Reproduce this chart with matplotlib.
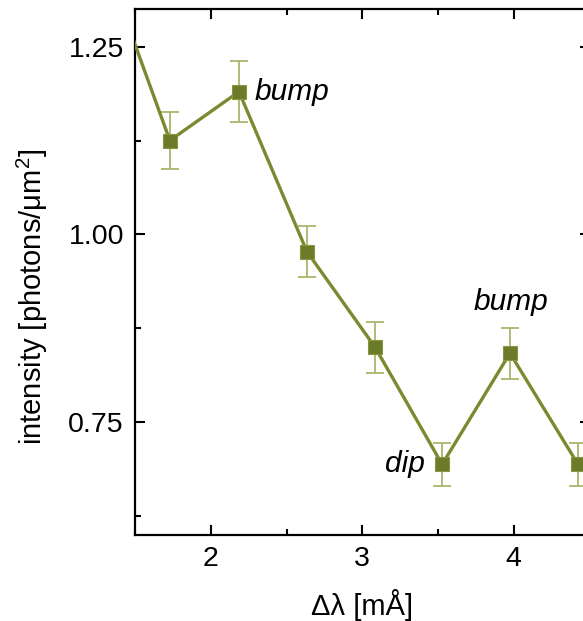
import numpy as np
import matplotlib
matplotlib.use("Agg")
import matplotlib.pyplot as plt
from matplotlib.ticker import MultipleLocator

plt.rcParams['font.family'] = ['Liberation Sans', 'DejaVu Sans']
plt.rcParams['mathtext.fontset'] = 'custom'
plt.rcParams['mathtext.rm'] = 'Liberation Sans'

# data (first point sits left of the visible window)
delta_lambda = [1.28, 1.73, 2.186, 2.635, 3.084, 3.527, 3.975, 4.424]
intensity = [1.375, 1.125, 1.190, 0.977, 0.850, 0.694, 0.842, 0.694]
err = [0.04, 0.038, 0.041, 0.034, 0.034, 0.029, 0.034, 0.029]

line_col = '#7b8a30'
marker_col = '#6c7b29'
err_col = '#aab56c'

fig = plt.figure(figsize=(5.83, 6.21), dpi=100)
ax = fig.add_axes([0.2316, 0.1385, 0.7796, 0.847])

ax.errorbar(delta_lambda, intensity, yerr=err, fmt='none', ecolor=err_col,
            elinewidth=1.3, capsize=6.5, capthick=1.3, zorder=2)
ax.plot(delta_lambda, intensity, color=line_col, lw=2.4, zorder=3)
ax.plot(delta_lambda, intensity, ls='none', marker='s', ms=10,
        mfc=marker_col, mec='#889640', mew=0.8, zorder=4)

ax.text(2.29, 1.19, 'bump', style='italic', fontsize=21.5, va='center', ha='left')
ax.text(3.98, 0.91, 'bump', style='italic', fontsize=21.5, va='center', ha='center')
ax.text(3.415, 0.694, 'dip', style='italic', fontsize=21.5, va='center', ha='right')

ax.set_xlim(1.5, 4.5)
ax.set_ylim(0.6, 1.3)
ax.xaxis.set_major_locator(MultipleLocator(1))
ax.xaxis.set_minor_locator(MultipleLocator(0.5))
ax.yaxis.set_minor_locator(MultipleLocator(0.125))
ax.set_yticks([0.75, 1.0, 1.25])
ax.set_yticklabels(['0.75', '1.00', '1.25'])
ax.tick_params(which='both', direction='in', top=True, right=True,
               width=1.5, labelsize=20.5, pad=8)
ax.tick_params(which='major', length=7)
ax.tick_params(which='minor', length=4)
for s in ax.spines.values():
    s.set_linewidth(1.6)

ax.set_xlabel('Δλ [mÅ]', fontsize=21)
ax.set_ylabel('intensity [photons/μm$^2$]', fontsize=21)
ax.xaxis.set_label_coords(0.5, -0.103)
ax.yaxis.set_label_coords(-0.186, 0.452)

fig.savefig('out.png', dpi=100)
